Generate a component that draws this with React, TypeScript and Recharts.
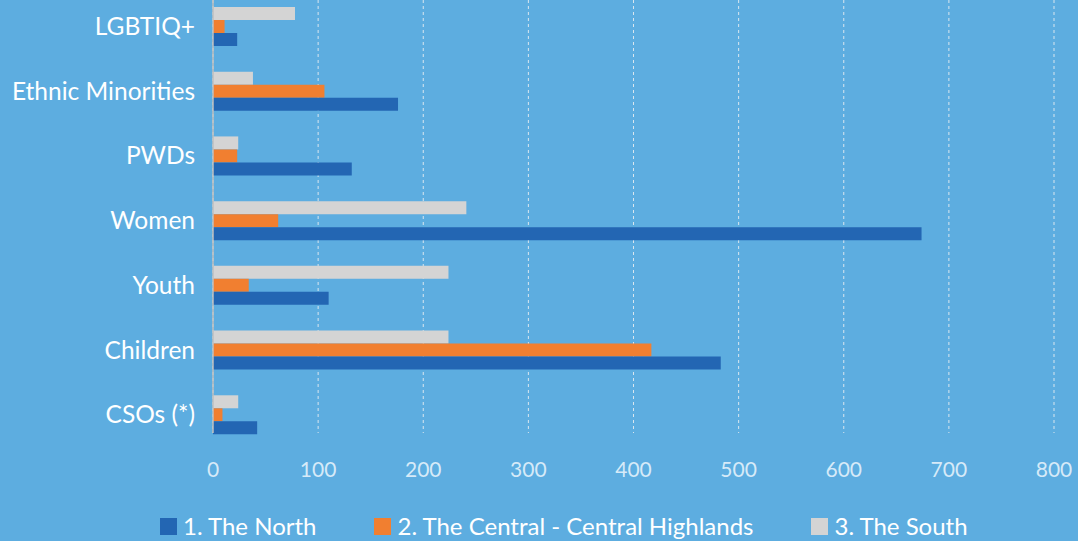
import React from "react";
import { BarChart, Bar, XAxis, YAxis, CartesianGrid } from "recharts";

const categories = ["LGBTIQ+", "Ethnic Minorities", "PWDs", "Women", "Youth", "Children", "CSOs (*)"];
const northValues = [23, 176, 132, 674, 110, 483, 42];
const centralValues = [11, 106, 23, 62, 34, 417, 9];
const southValues = [78, 38, 24, 241, 224, 224, 24];
const xTicks = [0, 100, 200, 300, 400, 500, 600, 700, 800];

const seriesNames = ["1. The North", "2. The Central - Central Highlands", "3. The South"];
const seriesColors = ["#2366B3", "#F17F30", "#D4D4D4"];

const data = categories.map((c, i) => ({
  category: c,
  north: northValues[i],
  central: centralValues[i],
  south: southValues[i],
}));

const FONT = "Lato, 'Open Sans', sans-serif";

export default function App() {
  return (
    <div
      style={{
        position: "absolute",
        left: 0,
        top: 0,
        width: 1078,
        height: 541,
        background: "#5DADE0",
        overflow: "hidden",
        fontFamily: FONT,
      }}
    >
      <BarChart
        width={1078}
        height={541}
        data={data}
        layout="vertical"
        margin={{ top: 0, right: 24, left: 0, bottom: 78 }}
        barSize={13}
        barGap={0}
      >
        <CartesianGrid horizontal={false} stroke="#D9E6EF" strokeDasharray="3 3" />
        <XAxis
          type="number"
          domain={[0, 800]}
          ticks={xTicks}
          axisLine={false}
          tickLine={false}
          tickSize={0}
          tickMargin={29}
          height={30}
          tick={{ fill: "#D6EAF8", fontSize: 21, fontFamily: FONT }}
        />
        <YAxis
          type="category"
          dataKey="category"
          width={213}
          axisLine={{ stroke: "#BFBFBF", strokeWidth: 1.5 }}
          tickLine={false}
          tickSize={0}
          tickMargin={18}
          padding={{ top: -6, bottom: -14 }}
          tick={{ fill: "#FFFFFF", fontSize: 24.5, fontFamily: FONT }}
        />
        <Bar dataKey="south" name={seriesNames[2]} fill={seriesColors[2]} isAnimationActive={false} />
        <Bar dataKey="central" name={seriesNames[1]} fill={seriesColors[1]} isAnimationActive={false} />
        <Bar dataKey="north" name={seriesNames[0]} fill={seriesColors[0]} isAnimationActive={false} />
      </BarChart>
      <div
        style={{
          position: "absolute",
          left: 160,
          top: 512,
          display: "flex",
          alignItems: "center",
          gap: 58,
          color: "#FFFFFF",
          fontSize: 24,
          fontFamily: FONT,
          whiteSpace: "nowrap",
        }}
      >
        {seriesNames.map((n, i) => (
          <div key={n} style={{ display: "flex", alignItems: "center" }}>
            <span
              style={{
                display: "inline-block",
                width: 17,
                height: 17,
                background: seriesColors[i],
                marginRight: 6,
              }}
            />
            <span style={{ lineHeight: "28px" }}>{n}</span>
          </div>
        ))}
      </div>
    </div>
  );
}
